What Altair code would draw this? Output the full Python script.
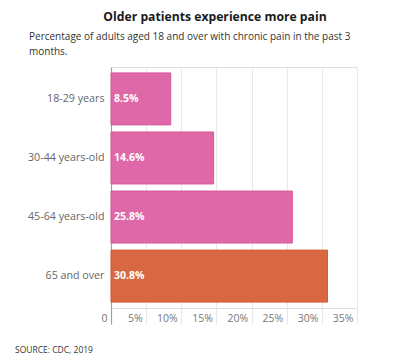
import altair as alt
import pandas as pd

categories = ["18-29 years", "30-44 years-old", "45-64 years-old", "65 and over"]
values = [8.5, 14.6, 25.8, 30.8]
labels = ["8.5%", "14.6%", "25.8%", "30.8%"]
highlight = [False, False, False, True]
tick_values = [0, 5, 10, 15, 20, 25, 30, 35]

title_text = "Older patients experience more pain"
subtitle_line1 = "Percentage of adults aged 18 and over with chronic pain in the past 3"
subtitle_line2 = "months."
source_text = "SOURCE: CDC, 2019"

FONT = "Open Sans"

df = pd.DataFrame({"cat": categories, "val": values, "lab": labels, "hl": highlight})

base = alt.Chart(df).transform_calculate(zero="0")

y_enc = alt.Y(
    "cat:N",
    sort=categories,
    title=None,
    scale=alt.Scale(paddingInner=0.12, paddingOuter=0.1),
    axis=alt.Axis(
        ticks=False,
        labelPadding=7,
        labelColor="#666666",
        labelFontSize=10.7,
        labelFont=FONT,
        domainColor="#9aa3a0",
        domainWidth=1.2,
    ),
)

x_scale = alt.Scale(domain=[0, 35], nice=False)
x_axis = alt.Axis(
    values=tick_values,
    grid=True,
    gridColor="#e8e8e8",
    domain=False,
    tickSize=16,
    tickColor=alt.condition("datum.value == 0", alt.value("#9aa3a0"), alt.value("#e8e8e8")),
    tickWidth=1.2,
    labelAlign="right",
    labelOffset=-4,
    labelBaseline="middle",
    labelPadding=-6,
    labelOverlap=False,
    labelColor="#777777",
    labelFontSize=10.5,
    labelFont=FONT,
    labelExpr="datum.value == 0 ? '0' : datum.value + '%'",
)

bars = base.mark_bar(strokeWidth=1).encode(
    y=y_enc,
    x=alt.X("val:Q", title=None, scale=x_scale, axis=x_axis),
    color=alt.condition("datum.hl", alt.value("#d96842"), alt.value("#df69a8")),
    stroke=alt.condition("datum.hl", alt.value("#d45a30"), alt.value("#d6579b")),
)

bar_text = base.mark_text(
    align="left", baseline="middle", dx=3, color="white", fontWeight="bold", fontSize=10.5, font=FONT
).encode(
    y=y_enc,
    x=alt.X("zero:Q", title=None, scale=x_scale, axis=x_axis),
    text="lab:N",
)

def text_layer(txt, x, y, **kw):
    d = pd.DataFrame({"t": [txt]})
    return alt.Chart(d).mark_text(font=FONT, baseline="middle", **kw).encode(
        x=alt.value(x), y=alt.value(y), text="t:N"
    )

title_mark = text_layer(title_text, 104, -50, align="center", fontSize=12.2, fontWeight="bold", color="#1a1a1a")
sub1 = text_layer(subtitle_line1, -82, -30, align="left", fontSize=10, color="#333333")
sub2 = text_layer(subtitle_line2, -82, -15, align="left", fontSize=10, color="#333333")
src_mark = text_layer(source_text, -96, 283, align="left", fontSize=8.5, color="#333333")

chart = alt.layer(bars, bar_text, title_mark, sub1, sub2, src_mark).properties(
    width=246,
    height=241,
    autosize=alt.AutoSizeParams(type="none"),
    padding={"left": 103, "top": 59, "right": 35, "bottom": 48},
).configure_view(stroke=None).configure(background="white")

chart.save("out.html", embed_options={"renderer": "svg", "actions": False})
